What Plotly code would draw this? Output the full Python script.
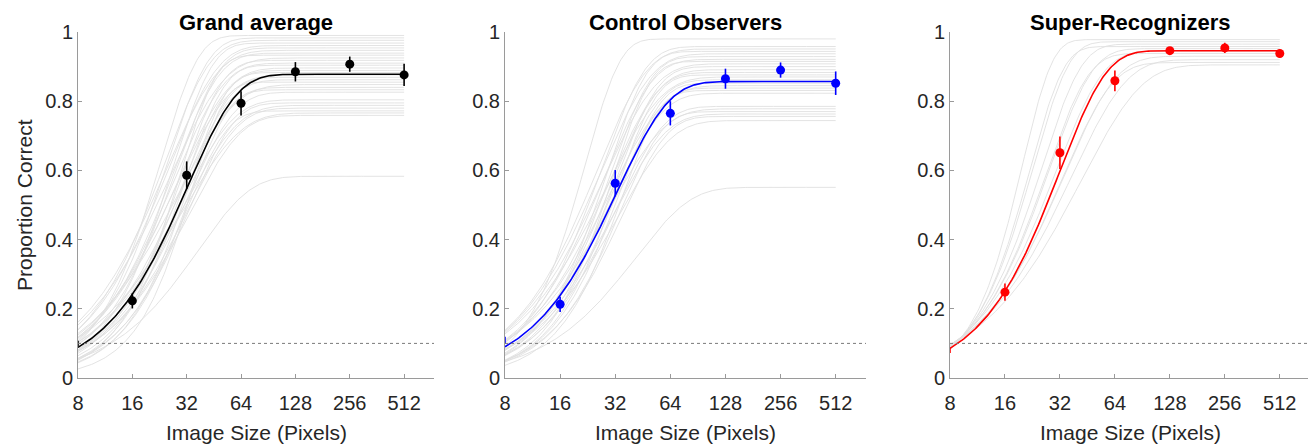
import numpy as np
import plotly.graph_objects as go

# ---------------- data ----------------
sizes = [8, 16, 32, 64, 128, 256, 512]
tick_labels = ["8", "16", "32", "64", "128", "256", "512"]
y_ticks = [0, 0.2, 0.4, 0.6, 0.8, 1.0]
y_tick_labels = ["0", "0.2", "0.4", "0.6", "0.8", "1"]
chance_level = 0.1
panel_titles = ["Grand average", "Control Observers", "Super-Recognizers"]

# group means and error bars
ga_mean = [0.100, 0.223, 0.586, 0.794, 0.885, 0.907, 0.876]
ga_err = [0.008, 0.022, 0.040, 0.035, 0.028, 0.022, 0.032]
co_mean = [0.109, 0.213, 0.563, 0.765, 0.865, 0.890, 0.852]
co_err = [0.010, 0.022, 0.038, 0.035, 0.029, 0.022, 0.034]
sr_mean = [0.080, 0.248, 0.651, 0.859, 0.946, 0.954, 0.938]
sr_err = [0.008, 0.025, 0.047, 0.030, 0.010, 0.015, 0.012]

# group psychometric (Weibull) fits: upper asymptote, scale (px), slope
ga_fit = [0.878, 32.5, 1.60]
co_fit = [0.857, 33.0, 1.55]
sr_fit = [0.946, 32.0, 1.70]

# individual-observer fits (grey curves)
ga_upper = [0.990, 0.983, 0.976, 0.968, 0.961, 0.954, 0.947, 0.939, 0.933, 0.925, 0.918,
            0.910, 0.904, 0.896, 0.889, 0.883, 0.876, 0.869, 0.862, 0.855, 0.848, 0.840,
            0.833, 0.826, 0.804, 0.795, 0.788, 0.780, 0.772, 0.766, 0.759, 0.583]
ga_scale = [23, 25, 24, 27, 25.5, 28, 24.5, 27, 29.5, 26, 30,
            27.5, 31.5, 28.5, 30.5, 33, 28, 32, 30, 34, 29, 31,
            33.5, 32.5, 30, 34, 31, 33, 32, 30.5, 33.5, 37]
ga_slope = [2.1, 1.9, 1.7, 2.0, 1.6, 1.8, 1.5, 1.7, 2.2, 1.45, 1.9,
            1.6, 2.0, 1.55, 1.75, 2.1, 1.5, 1.85, 1.6, 2.4, 1.4, 1.7,
            2.0, 1.65, 1.5, 1.8, 1.45, 1.6, 1.9, 1.35, 1.55, 1.5]

co_upper = [0.980, 0.958, 0.951, 0.944, 0.937, 0.929, 0.921, 0.915, 0.908, 0.900, 0.891,
            0.883, 0.876, 0.870, 0.862, 0.852, 0.845, 0.838, 0.831, 0.823, 0.785, 0.778,
            0.770, 0.763, 0.756, 0.744, 0.551]
co_scale = [22, 27, 25.5, 29, 26.5, 30, 28, 31, 27.5, 32, 29.5,
            30.5, 33, 28.5, 31.5, 34, 30, 32.5, 35, 31, 33, 30,
            34.5, 32, 35.5, 33.5, 41.5]
co_slope = [2.3, 1.8, 1.6, 2.0, 1.55, 1.9, 1.65, 2.1, 1.5, 1.85, 1.6,
            1.75, 2.0, 1.45, 1.7, 1.95, 1.5, 1.8, 2.1, 1.6, 1.7, 1.45,
            1.9, 1.55, 1.8, 1.5, 1.46]

sr_upper = [0.978, 0.972, 0.965, 0.958, 0.952, 0.945, 0.938, 0.930, 0.920, 0.912, 0.905]
sr_scale = [20, 23, 25.5, 22, 28, 30.5, 27, 34, 37, 33, 42]
sr_slope = [2.67, 2.24, 2.00, 2.36, 1.82, 1.68, 1.88, 1.54, 1.44, 1.58, 1.32]

# ---------------- figure ----------------
# the page body adds an 8 px margin, so the figure is laid out in
# screen pixels minus that offset
OFF = 8
W, H = 1316 - OFF, 445 - OFF


def px_x(v):
    return (v - OFF) / W


def px_y(v):
    return 1 - (v - OFF) / H


x_dom = [[px_x(78), px_x(434)], [px_x(505), px_x(866)], [px_x(950), px_x(1310)]]
y_dom = [px_y(378), px_y(32)]
colors = ["#000000", "#0000ff", "#ff0000"]
FONT = "Liberation Sans, Arial, Helvetica, sans-serif"

xs = np.geomspace(sizes[0], sizes[-1], 240)


def weibull(x, upper, scale, slope):
    return upper * (1 - np.exp(-(x / scale) ** slope))


panels = [
    (ga_mean, ga_err, ga_fit, ga_upper, ga_scale, ga_slope),
    (co_mean, co_err, co_fit, co_upper, co_scale, co_slope),
    (sr_mean, sr_err, sr_fit, sr_upper, sr_scale, sr_slope),
]

fig = go.Figure()
x_max = np.log10(sizes[0]) + 6.55 * np.log10(2)

for i, (mean, err, fit, ups, scs, sls) in enumerate(panels):
    xa = "x" if i == 0 else f"x{i+1}"
    ya = "y" if i == 0 else f"y{i+1}"
    for u, s, b in zip(ups, scs, sls):
        fig.add_trace(go.Scatter(x=xs, y=weibull(xs, u, s, b), mode="lines",
                                 line=dict(color="#e0e0e0", width=0.9),
                                 xaxis=xa, yaxis=ya, showlegend=False, hoverinfo="skip"))
    fig.add_trace(go.Scatter(x=xs, y=weibull(xs, *fit), mode="lines",
                             line=dict(color=colors[i], width=1.6),
                             xaxis=xa, yaxis=ya, showlegend=False))
    fig.add_trace(go.Scatter(x=sizes, y=mean, mode="markers",
                             marker=dict(color=colors[i], size=9),
                             error_y=dict(type="data", array=err, color=colors[i],
                                          thickness=1.6, width=0),
                             cliponaxis=False,
                             xaxis=xa, yaxis=ya, showlegend=False))
    fig.add_shape(type="line", xref=f"{xa} domain", yref=ya, x0=0, x1=1,
                  y0=chance_level, y1=chance_level,
                  line=dict(color="#7a7a7a", width=1, dash="dot"))
    # axes
    xkey = "xaxis" if i == 0 else f"xaxis{i+1}"
    ykey = "yaxis" if i == 0 else f"yaxis{i+1}"
    fig.layout[xkey] = dict(type="log", domain=x_dom[i], range=[np.log10(sizes[0]), x_max],
                            anchor=ya, tickvals=sizes, ticktext=tick_labels,
                            ticks="inside", ticklen=4, tickcolor="#9a9a9a",
                            showline=True, linecolor="#9a9a9a", linewidth=1,
                            showgrid=False, zeroline=False, automargin=False,
                            tickfont=dict(family=FONT, size=20, color="#262626"),
                            ticklabelstandoff=7)
    fig.layout[ykey] = dict(domain=y_dom, range=[0, 1], anchor=xa,
                            tickvals=y_ticks, ticktext=y_tick_labels,
                            ticks="inside", ticklen=4, tickcolor="#9a9a9a",
                            showline=True, linecolor="#9a9a9a", linewidth=1,
                            showgrid=False, zeroline=False, automargin=False,
                            tickfont=dict(family=FONT, size=20, color="#262626"))
    cx = (x_dom[i][0] + x_dom[i][1]) / 2
    fig.add_annotation(text=f"<b>{panel_titles[i]}</b>", x=cx, y=px_y(8.5),
                       xref="paper", yref="paper", showarrow=False,
                       xanchor="center", yanchor="top", borderpad=0,
                       font=dict(family=FONT, size=22, color="#000000"))
    fig.add_annotation(text="Image Size (Pixels)", x=cx, y=px_y(432),
                       xref="paper", yref="paper", showarrow=False,
                       xanchor="center", yanchor="middle",
                       font=dict(family=FONT, size=21, color="#262626"))

fig.add_annotation(text="Proportion Correct", x=px_x(24), y=px_y(205),
                   xref="paper", yref="paper", showarrow=False, textangle=-90,
                   xanchor="center", yanchor="middle",
                   font=dict(family=FONT, size=21, color="#262626"))

fig.update_layout(width=W, height=H,
                  margin=dict(l=0, r=0, t=0, b=0, pad=0, autoexpand=False),
                  plot_bgcolor="white", paper_bgcolor="white", showlegend=False)

fig.write_html("out.html")
